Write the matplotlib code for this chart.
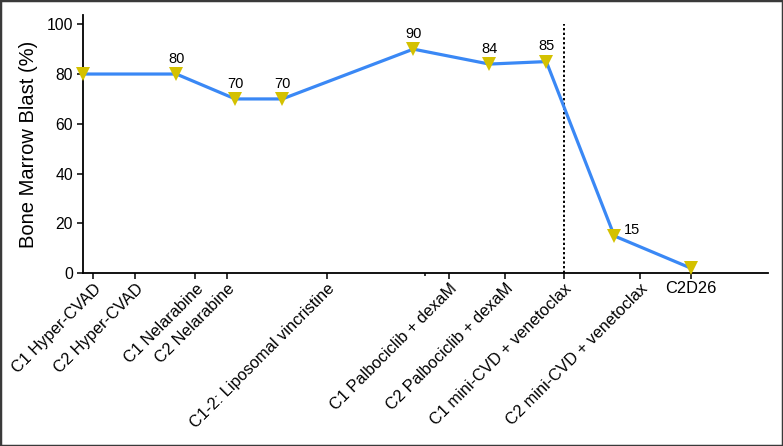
import matplotlib
matplotlib.use("Agg")
import matplotlib.pyplot as plt
from matplotlib.patches import Rectangle
import matplotlib.transforms as mtransforms

plt.rcParams['font.family'] = ['Liberation Sans', 'DejaVu Sans']

# Data (x in relative time units)
point_x = [0, 93, 152, 199, 330, 406, 463, 531, 608]
blast = [80, 80, 70, 70, 90, 84, 85, 15, 2]
shown_labels = [None, "80", "70", "70", "90", "84", "85", "15", None]

tick_pos = [10, 52, 112, 144, 244, 366, 422, 481, 557, 608]
tick_labels = ["C1 Hyper-CVAD", "C2 Hyper-CVAD", "C1 Nelarabine", "C2 Nelarabine",
               "C1-2: Liposomal vincristine", "C1 Palbociclib + dexaM",
               "C2 Palbociclib + dexaM", "C1 mini-CVD + venetoclax",
               "C2 mini-CVD + venetoclax", "C2D26"]
minor_pos = [342]
switch_x = 481

fig = plt.figure(figsize=(7.83, 4.46), dpi=100)
ax = fig.add_axes([83.3/783, 1-273.3/446, (767.7-83.3)/783, (273.3-15)/446])

ax.plot(point_x, blast, color='#3a88f5', lw=2.3, zorder=2, solid_capstyle='butt')
ax.plot(point_x, blast, linestyle='none', marker='v', ms=9.5, color='#d4c100',
        markeredgewidth=0, zorder=3, clip_on=False)

for x, y, lab in zip(point_x, blast, shown_labels):
    if lab is None:
        continue
    if lab == "15":
        ax.annotate(lab, (x, y), xytext=(13, 4), textcoords='offset points',
                    ha='center', va='center', fontsize=10.5)
    else:
        ax.annotate(lab, (x, y), xytext=(0, 11), textcoords='offset points',
                    ha='center', va='center', fontsize=10.5)

ax.plot([switch_x, switch_x], [0, 100], color='black', lw=1.4, ls=(0, (1.2, 1.2)), zorder=1)

ax.set_xlim(0, 684.4)
ax.set_ylim(0, 103.7)
ax.set_yticks([0, 20, 40, 60, 80, 100])
ax.set_ylabel("Bone Marrow Blast (%)", fontsize=14.5, labelpad=6)
ax.set_xticks(tick_pos)
ax.set_xticks(minor_pos, minor=True)
ax.set_xticklabels(tick_labels, fontsize=11.8)

shift = mtransforms.ScaledTranslation(3/100, 0, fig.dpi_scale_trans)
for i, lbl in enumerate(ax.get_xticklabels()):
    if i == len(tick_labels) - 1:
        lbl.set_rotation(0)
        lbl.set_ha('center')
        lbl.set_va('top')
    else:
        lbl.set_rotation(45)
        lbl.set_ha('right')
        lbl.set_va('top')
        lbl.set_rotation_mode('anchor')
        lbl.set_transform(lbl.get_transform() + shift)

ax.tick_params(axis='y', labelsize=11.3, direction='out', length=4.5, width=1.1, pad=3)
ax.tick_params(axis='x', which='major', direction='out', length=4.5, width=1.1, pad=1)
ax.tick_params(axis='x', which='minor', direction='out', length=2.5, width=1.1)

for s in ['top', 'right']:
    ax.spines[s].set_visible(False)
for s in ['left', 'bottom']:
    ax.spines[s].set_linewidth(1.3)

fig.add_artist(Rectangle((0, 0), 1, 1, transform=fig.transFigure, fill=False,
                         ec='#3a3a3a', lw=2.5))

fig.savefig("out.png", dpi=100)
